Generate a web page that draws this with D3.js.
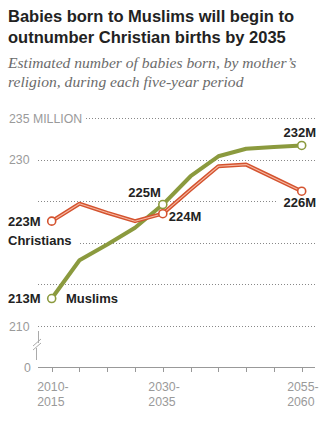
<!DOCTYPE html>
<html><head><meta charset="utf-8">
<script src="https://cdn.jsdelivr.net/npm/d3@7"></script>
<style>
html,body{margin:0;padding:0;background:#fff;}
svg{display:block;}
</style></head>
<body><svg id="c" width="324" height="421"></svg>
<script>
const periods = ["2010","2015","2020","2025","2030","2035","2040","2045","2050","2055"];
const christians = [222.6, 224.7, 223.6, 222.6, 223.5, 226.4, 229.2, 229.4, 227.8, 226.2];
const muslims = [213.3, 217.9, 219.8, 221.8, 224.6, 228.0, 230.4, 231.3, 231.5, 231.7];
const yTicks = [235, 230, 225, 220, 215, 210];
const yTickLabels = ["235 MILLION", "230", "", "", "", "210"];
const xLabelIdx = [0, 4, 9];
const xLabels = [["2010-","2015"],["2030-","2035"],["2055-","2060"]];

const svg = d3.select("#c");
const x = d3.scalePoint().domain(periods).range([51.7, 301.7]);
const y = d3.scaleLinear().domain([210, 235]).range([326, 118]);
const yZero = 367;
const gray = "#9a9a9a";
const green = "#8b9a3e", red = "#d4532f";

// title
svg.append("text").attr("x", 8).attr("y", 22)
  .attr("font-family", "Liberation Sans, Arial, sans-serif").attr("font-weight", "bold")
  .attr("font-size", 16.5).attr("fill", "#222")
  .selectAll("tspan").data(["Babies born to Muslims will begin to", "outnumber Christian births by 2035"])
  .join("tspan").attr("x", 8).attr("dy", (d, i) => i ? 21 : 0).text(d => d);
svg.append("text").attr("x", 8).attr("y", 68)
  .attr("font-family", "Liberation Serif, Georgia, serif").attr("font-style", "italic")
  .attr("font-size", 15.6).attr("fill", "#6b6b6b")
  .selectAll("tspan").data(["Estimated number of babies born, by mother\u2019s", "religion, during each five-year period"])
  .join("tspan").attr("x", 8).attr("dy", (d, i) => i ? 18.5 : 0).text(d => d);

// gridlines
const gridStart = {235: 86, 230: 38, 225: 38, 220: 80, 215: 38, 210: 38};
const gridEnd = {235: 315, 230: 315, 225: 277, 220: 315, 215: 315, 210: 315};
svg.append("g").selectAll("line").data(yTicks).join("line")
  .attr("x1", d => gridStart[d]).attr("x2", d => gridEnd[d])
  .attr("y1", d => Math.round(y(d)) + 0.5).attr("y2", d => Math.round(y(d)) + 0.5)
  .attr("stroke", "#888").attr("stroke-width", 1).attr("stroke-dasharray", "1,2");
svg.append("g").selectAll("text").data(yTicks.filter((d, i) => yTickLabels[i]))
  .join("text").attr("x", 9).attr("y", d => y(d) + 4.5)
  .attr("font-family", "Liberation Sans, Arial, sans-serif").attr("font-size", 12.3)
  .attr("fill", gray).text(d => yTickLabels[yTicks.indexOf(d)]);

// zero baseline & axis
svg.append("line").attr("x1", 38).attr("x2", 315).attr("y1", yZero + 0.5).attr("y2", yZero + 0.5)
  .attr("stroke", "#999");
svg.append("g").selectAll("line").data(periods).join("line")
  .attr("x1", d => Math.round(x(d)) + 0.5).attr("x2", d => Math.round(x(d)) + 0.5)
  .attr("y1", yZero).attr("y2", yZero + 5).attr("stroke", "#999");
svg.append("text").attr("x", 24).attr("y", yZero + 4.5)
  .attr("font-family", "Liberation Sans, Arial, sans-serif").attr("font-size", 12.3)
  .attr("fill", gray).text("0");
// axis break
const br = svg.append("g").attr("stroke", "#aaa").attr("stroke-width", 1).attr("fill", "none");
br.append("line").attr("x1", 38.5).attr("x2", 38.5).attr("y1", 331).attr("y2", 343);
br.append("line").attr("x1", 33).attr("y1", 346).attr("x2", 41).attr("y2", 339);
br.append("line").attr("x1", 33).attr("y1", 350).attr("x2", 41).attr("y2", 343);
br.append("line").attr("x1", 36.5).attr("x2", 36.5).attr("y1", 348).attr("y2", 360);

// x labels
const xl = svg.append("g").attr("font-family", "Liberation Sans, Arial, sans-serif")
  .attr("font-size", 12.3).attr("fill", gray);
xLabelIdx.forEach((pi, k) => {
  const cx = x(periods[pi]);
  const t = xl.append("text").attr("y", 391);
  t.append("tspan").attr("x", cx - 14.5).text(xLabels[k][0]);
  t.append("tspan").attr("x", cx - 14.5).attr("dy", 15).text(xLabels[k][1]);
});

// lines
const line = d3.line().x((d, i) => x(periods[i])).y(d => y(d));
svg.append("path").attr("d", line(muslims)).attr("fill", "none")
  .attr("stroke", green).attr("stroke-width", 4).attr("stroke-linejoin", "round");
svg.append("path").attr("d", line(christians)).attr("fill", "none")
  .attr("stroke", red).attr("stroke-width", 4).attr("stroke-linejoin", "round");
svg.append("path").attr("d", line(christians)).attr("fill", "none")
  .attr("stroke", "#f6b9a3").attr("stroke-width", 1.1).attr("stroke-linejoin", "round");

// endpoint circles
const marks = [[muslims, green, [0, 4, 9]], [christians, red, [0, 4, 9]]];
marks.forEach(([s, c, idx]) => {
  svg.append("g").selectAll("circle").data(idx).join("circle")
    .attr("cx", i => x(periods[i])).attr("cy", i => y(s[i])).attr("r", 4)
    .attr("fill", "#fff").attr("stroke", c).attr("stroke-width", 1.6);
});

// labels
const lab = svg.append("g").attr("font-family", "Liberation Sans, Arial, sans-serif")
  .attr("font-weight", "bold").attr("font-size", 13).attr("fill", "#222");
const fmt = v => Math.round(v) + "M";
lab.append("text").attr("x", 8).attr("y", y(christians[0]) + 4.5).text(fmt(christians[0]));
lab.append("text").attr("x", 8).attr("y", y(christians[0]) + 24).text("Christians");
lab.append("text").attr("x", 8).attr("y", y(muslims[0]) + 4.5).text(fmt(muslims[0]));
lab.append("text").attr("x", 66).attr("y", y(muslims[0]) + 4).text("Muslims");
lab.append("text").attr("x", x(periods[4]) - 2).attr("y", y(muslims[4]) - 8)
  .attr("text-anchor", "end").text(fmt(muslims[4]));
lab.append("text").attr("x", x(periods[4]) + 6).attr("y", y(christians[4]) + 7).text(fmt(christians[4]));
lab.append("text").attr("x", 316).attr("y", y(muslims[9]) - 8).attr("text-anchor", "end").text(fmt(muslims[9]));
lab.append("text").attr("x", 316).attr("y", y(christians[9]) + 16).attr("text-anchor", "end").text(fmt(christians[9]));
</script></body></html>
